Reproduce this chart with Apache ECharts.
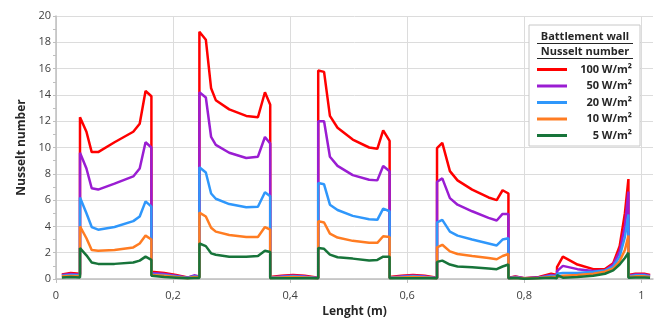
<!DOCTYPE html>
<html>
<head>
<meta charset="utf-8">
<script src="https://cdn.jsdelivr.net/npm/echarts@6/dist/echarts.min.js"></script>
<style>
html, body { margin: 0; padding: 0; background: #fff; }
#main { width: 662px; height: 320px; }
</style>
</head>
<body>
<div id="main"></div>
<script>
// position along the wall (m), shared by all series
var lengthX = [
	0.01, 0.025, 0.041,
	0.041, 0.052, 0.061, 0.072, 0.100, 0.132, 0.143, 0.153, 0.163,
	0.163, 0.185, 0.205, 0.225, 0.236, 0.245,
	0.245, 0.256, 0.265, 0.273, 0.296, 0.325, 0.345, 0.357, 0.366,
	0.366, 0.385, 0.405, 0.425, 0.448,
	0.448, 0.458, 0.468, 0.481, 0.507, 0.535, 0.549, 0.559, 0.570,
	0.570, 0.590, 0.610, 0.630, 0.651,
	0.651, 0.660, 0.673, 0.686, 0.711, 0.739, 0.753, 0.763, 0.773,
	0.773, 0.785, 0.800, 0.825, 0.846, 0.856,
	0.856, 0.866, 0.891, 0.918, 0.938, 0.952, 0.963, 0.972, 0.978,
	0.978, 0.990, 1.005, 1.015
];

var nu100 = [
	0.35, 0.45, 0.4,
	12.3, 11.2, 9.65, 9.65, 10.4, 11.2, 11.8, 14.3, 13.9,
	0.55, 0.45, 0.3, 0.12, 0.22, 0.2,
	18.8, 18.2, 14.5, 13.6, 12.9, 12.4, 12.3, 14.2, 13.25,
	0.15, 0.25, 0.3, 0.25, 0.1,
	15.85, 15.75, 12.4, 11.5, 10.6, 10.0, 9.9, 11.3, 10.5,
	0.15, 0.25, 0.3, 0.25, 0.1,
	9.95, 10.35, 8.2, 7.5, 6.8, 6.2, 6.0, 6.75, 6.5,
	0.1, 0.2, 0.05, 0.15, 0.4, 0.3,
	0.9, 1.7, 1.1, 0.75, 0.75, 1.2, 2.5, 5.0, 7.6,
	0.3, 0.4, 0.4, 0.3
];

var nu50 = [
	0.3, 0.38, 0.33,
	9.6, 8.4, 6.9, 6.8, 7.25, 7.8, 8.4, 10.4, 10.0,
	0.45, 0.38, 0.25, 0.1, 0.28, 0.18,
	14.2, 13.8, 10.8, 10.2, 9.6, 9.2, 9.3, 10.8, 10.3,
	0.12, 0.2, 0.25, 0.2, 0.08,
	12.0, 12.0, 9.3, 8.6, 7.9, 7.55, 7.5, 8.6, 8.2,
	0.12, 0.2, 0.25, 0.2, 0.08,
	7.4, 7.65, 6.15, 5.65, 5.15, 4.65, 4.45, 4.95, 4.95,
	0.08, 0.18, 0.05, 0.12, 0.3, 0.25,
	0.6, 1.0, 0.75, 0.6, 0.65, 1.1, 2.1, 4.0, 6.65,
	0.25, 0.35, 0.35, 0.25
];

var nu20 = [
	0.25, 0.3, 0.28,
	6.2, 5.0, 3.95, 3.75, 3.95, 4.4, 4.75, 5.9, 5.5,
	0.35, 0.3, 0.2, 0.08, 0.2, 0.15,
	8.5, 8.1, 6.5, 6.1, 5.7, 5.45, 5.5, 6.6, 6.3,
	0.1, 0.15, 0.2, 0.15, 0.06,
	7.3, 7.2, 5.65, 5.25, 4.8, 4.55, 4.5, 5.35, 5.15,
	0.1, 0.15, 0.2, 0.15, 0.06,
	4.3, 4.5, 3.6, 3.3, 3.0, 2.7, 2.55, 3.0, 3.1,
	0.06, 0.12, 0.04, 0.1, 0.22, 0.2,
	0.4, 0.45, 0.45, 0.55, 0.65, 0.95, 1.7, 3.2, 4.9,
	0.2, 0.28, 0.28, 0.2
];

var nu10 = [
	0.2, 0.22, 0.2,
	4.0, 3.1, 2.2, 2.15, 2.2, 2.4, 2.7, 3.3, 3.0,
	0.3, 0.25, 0.15, 0.06, 0.15, 0.12,
	5.05, 4.75, 3.9, 3.6, 3.35, 3.2, 3.2, 3.95, 3.75,
	0.08, 0.12, 0.15, 0.12, 0.05,
	4.4, 4.3, 3.45, 3.15, 2.9, 2.75, 2.75, 3.25, 3.2,
	0.08, 0.12, 0.15, 0.12, 0.05,
	2.4, 2.6, 2.1, 1.9, 1.75, 1.6, 1.5, 1.75, 1.9,
	0.05, 0.1, 0.03, 0.08, 0.15, 0.15,
	0.3, 0.25, 0.3, 0.4, 0.55, 0.8, 1.35, 2.2, 3.3,
	0.15, 0.2, 0.2, 0.15
];

var nu5 = [
	0.12, 0.15, 0.12,
	2.35, 1.8, 1.25, 1.15, 1.15, 1.25, 1.4, 1.7, 1.45,
	0.25, 0.15, 0.1, 0.05, 0.08, 0.08,
	2.7, 2.5, 1.95, 1.85, 1.7, 1.7, 1.75, 2.15, 2.05,
	0.05, 0.05, 0.05, 0.05, 0.05,
	2.35, 2.3, 1.85, 1.65, 1.55, 1.4, 1.45, 1.7, 1.7,
	0.05, 0.05, 0.05, 0.05, 0.05,
	1.3, 1.4, 1.1, 0.95, 0.9, 0.8, 0.75, 0.95, 1.1,
	0.05, 0.08, 0.02, 0.05, 0.1, 0.05,
	0.3, 0.1, 0.15, 0.25, 0.4, 0.65, 1.1, 1.6, 2.0,
	0.1, 0.12, 0.12, 0.1
];

var seriesNames = ['100 W/m²', '50 W/m²', '20 W/m²', '10 W/m²', '5 W/m²'];
var seriesColors = ['#ff0000', '#9a1dd2', '#2f97fb', '#ff7c22', '#17743a'];
var seriesValues = [nu100, nu50, nu20, nu10, nu5];

var FONT = '"Open Sans", "Liberation Sans", sans-serif';

function pairs(ys) {
	var out = [];
	for (var i = 0; i < lengthX.length; i++) {
		out.push([lengthX[i], ys[i]]);
	}
	return out;
}

var series = [];
for (var k = 0; k < seriesNames.length; k++) {
	series.push({
		name: seriesNames[k],
		type: 'line',
		data: pairs(seriesValues[k]),
		showSymbol: false,
		symbol: 'none',
		color: seriesColors[k],
		lineStyle: { width: 2.5, color: seriesColors[k] },
		animation: false
	});
}

var myChart = echarts.init(document.getElementById('main'));
var option = {
	animation: false,
	grid: { left: 56, right: 9, top: 16, bottom: 41, outerBoundsMode: 'none' },
	legend: {
		orient: 'vertical',
		left: 529,
		top: 25,
		padding: [39, 8, 5, 8],
		backgroundColor: '#fff',
		borderColor: '#c8c8c8',
		borderWidth: 1,
		itemWidth: 30,
		itemHeight: 3,
		itemGap: 5.5,
		icon: 'rect',
		data: seriesNames,
		formatter: function (name) {
			return '{t|' + name + '}';
		},
		textStyle: {
			rich: {
				t: {
					width: 60,
					align: 'right',
					fontFamily: FONT,
					fontWeight: 'bold',
					fontSize: 11,
					lineHeight: 14,
					color: '#262626'
				}
			}
		}
	},
	xAxis: {
		type: 'value',
		min: 0,
		max: 1.02,
		interval: 0.2,
		name: 'Lenght (m)',
		nameLocation: 'middle',
		nameGap: 27,
		nameTextStyle: { fontFamily: FONT, fontWeight: 'bold', fontSize: 12, color: '#262626' },
		axisLine: { show: true, lineStyle: { color: '#bfbfbf', width: 1.5 } },
		axisTick: { show: true, length: 4, lineStyle: { color: '#bfbfbf' } },
		axisLabel: {
			margin: 11,
			showMaxLabel: false,
			fontFamily: FONT,
			fontSize: 11,
			color: '#404040',
			formatter: function (v) {
				return String(Math.round(v * 10) / 10).replace('.', ',');
			}
		},
		splitLine: { show: true, showMaxLine: false, lineStyle: { color: '#dcdcdc' } }
	},
	yAxis: {
		type: 'value',
		min: 0,
		max: 20,
		interval: 2,
		name: 'Nusselt number',
		nameLocation: 'middle',
		nameGap: 27,
		nameTextStyle: { fontFamily: FONT, fontWeight: 'bold', fontSize: 12, color: '#262626' },
		axisLine: { show: true, lineStyle: { color: '#bfbfbf', width: 1.5 } },
		axisTick: { show: true, length: 3, lineStyle: { color: '#bfbfbf' } },
		minorTick: { show: true, splitNumber: 2, length: 3, lineStyle: { color: '#bfbfbf' } },
		axisLabel: { margin: 5, fontFamily: FONT, fontSize: 11, color: '#404040' },
		splitLine: { show: true, lineStyle: { color: '#dcdcdc' } }
	},
	graphic: [
		{
			type: 'text', x: 585, y: 37, z: 100,
			style: {
				text: 'Battlement wall', font: 'bold 11px ' + FONT,
				textAlign: 'center', textVerticalAlign: 'middle', fill: '#262626'
			}
		},
		{
			type: 'line', z: 100,
			shape: { x1: 537, y1: 43.5, x2: 633, y2: 43.5 },
			style: { stroke: '#262626', lineWidth: 1 }
		},
		{
			type: 'text', x: 585, y: 52, z: 100,
			style: {
				text: 'Nusselt number', font: 'bold 11px ' + FONT,
				textAlign: 'center', textVerticalAlign: 'middle', fill: '#262626'
			}
		},
		{
			type: 'line', z: 100,
			shape: { x1: 537, y1: 58.5, x2: 633, y2: 58.5 },
			style: { stroke: '#262626', lineWidth: 1 }
		}
	],
	series: series
};
myChart.setOption(option);
</script>
</body>
</html>
